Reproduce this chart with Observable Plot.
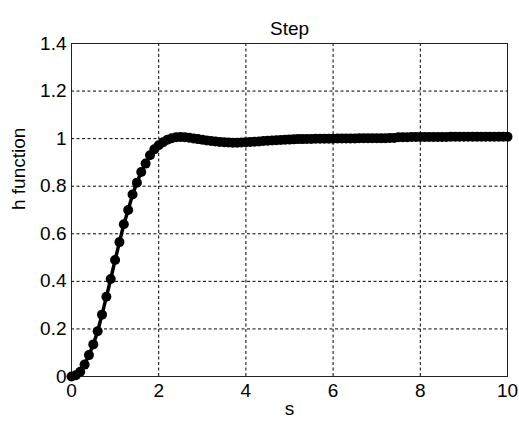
<!DOCTYPE html>
<html>
<head>
<meta charset="utf-8">
<script src="https://cdn.jsdelivr.net/npm/d3@7"></script>
<script src="https://cdn.jsdelivr.net/npm/@observablehq/plot@0.6"></script>
<style>
  html, body { margin: 0; padding: 0; background: #fff; }
  svg { display: block; }
</style>
</head>
<body>
<div id="chart"></div>
<script>
const title = "Step";
const xLabel = "s";
const yLabel = "h function";
const xTicks = [0, 2, 4, 6, 8, 10];
const yTicks = [0, 0.2, 0.4, 0.6, 0.8, 1, 1.2, 1.4];

const t = [
  0.0, 0.1, 0.2, 0.3, 0.4, 0.5, 0.6, 0.7, 0.8, 0.9,
  1.0, 1.1, 1.2, 1.3, 1.4, 1.5, 1.6, 1.7, 1.8, 1.9,
  2.0, 2.1, 2.2, 2.3, 2.4, 2.5, 2.6, 2.7, 2.8, 2.9,
  3.0, 3.1, 3.2, 3.3, 3.4, 3.5, 3.6, 3.7, 3.8, 3.9,
  4.0, 4.1, 4.2, 4.3, 4.4, 4.5, 4.6, 4.7, 4.8, 4.9,
  5.0, 5.1, 5.2, 5.3, 5.4, 5.5, 5.6, 5.7, 5.8, 5.9,
  6.0, 6.1, 6.2, 6.3, 6.4, 6.5, 6.6, 6.7, 6.8, 6.9,
  7.0, 7.1, 7.2, 7.3, 7.4, 7.5, 7.6, 7.7, 7.8, 7.9,
  8.0, 8.1, 8.2, 8.3, 8.4, 8.5, 8.6, 8.7, 8.8, 8.9,
  9.0, 9.1, 9.2, 9.3, 9.4, 9.5, 9.6, 9.7, 9.8, 9.9,
  10.0
];
const h = [
  0.000, 0.005, 0.020, 0.050, 0.090, 0.135, 0.190, 0.260, 0.335, 0.410,
  0.490, 0.565, 0.640, 0.700, 0.765, 0.815, 0.860, 0.895, 0.930, 0.955,
  0.972, 0.985, 0.995, 1.002, 1.006, 1.007, 1.006, 1.004, 1.001, 0.998,
  0.995, 0.992, 0.990, 0.988, 0.986, 0.985, 0.984, 0.983, 0.983, 0.984,
  0.985, 0.986, 0.987, 0.988, 0.990, 0.991, 0.992, 0.993, 0.994, 0.995,
  0.996, 0.997, 0.998, 0.998, 0.999, 0.999, 1.000, 1.000, 1.000, 1.000,
  1.000, 1.001, 1.001, 1.001, 1.001, 1.001, 1.002, 1.002, 1.002, 1.002,
  1.002, 1.002, 1.002, 1.003, 1.003, 1.006, 1.006, 1.006, 1.007, 1.007,
  1.007, 1.007, 1.007, 1.007, 1.007, 1.007, 1.007, 1.008, 1.008, 1.008,
  1.008, 1.008, 1.008, 1.008, 1.008, 1.008, 1.008, 1.008, 1.008, 1.008,
  1.008
];

const data = t.map((x, i) => ({t: x, h: h[i]}));
const fmt = d => (d === 0 ? "0" : d === 1 ? "1" : String(+d.toFixed(1)));

const chart = Plot.plot({
  width: 519,
  height: 425,
  marginLeft: 71,
  marginRight: 12,
  marginTop: 43,
  marginBottom: 49,
  style: {fontFamily: "'Liberation Sans', Arial, sans-serif", fontSize: "19px", color: "#000", background: "#fff"},
  x: {domain: [0, 10]},
  y: {domain: [0, 1.4]},
  marks: [
    Plot.gridX(xTicks, {stroke: "#000", strokeOpacity: 1, strokeWidth: 1, strokeDasharray: "3,2.5"}),
    Plot.gridY(yTicks, {stroke: "#000", strokeOpacity: 1, strokeWidth: 1, strokeDasharray: "3,2.5"}),
    Plot.frame({stroke: "#222", strokeWidth: 1}),
    Plot.axisX(xTicks, {tickSize: 0, tickPadding: 7, tickFormat: fmt, fontSize: 19, label: null}),
    Plot.axisY(yTicks, {tickSize: 0, tickPadding: 5, tickFormat: fmt, fontSize: 19, label: null}),
    Plot.line(data, {x: "t", y: "h", stroke: "#000", strokeWidth: 3.5}),
    Plot.dot(data, {x: "t", y: "h", r: 5, fill: "#000", stroke: "none"}),
    Plot.text([title], {frameAnchor: "top", dy: -22, fontSize: 19, fill: "#000"}),
    Plot.text([xLabel], {frameAnchor: "bottom", dy: 38, fontSize: 19, fill: "#000"}),
    Plot.text([yLabel], {frameAnchor: "left", dx: -53, rotate: -90, fontSize: 19, fill: "#000"})
  ]
});
document.getElementById("chart").append(chart);
</script>
</body>
</html>
